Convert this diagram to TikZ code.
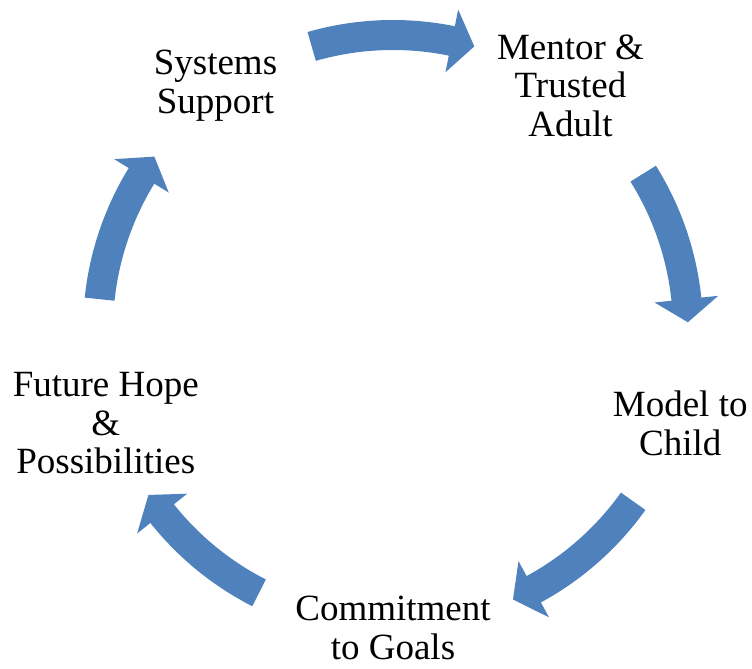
\documentclass[tikz,border=0pt]{standalone}
\usepackage{fontspec}
\setmainfont{Liberation Serif}
\usetikzlibrary{calc}
\definecolor{cycleblue}{HTML}{4F81BD}
\tikzset{
  steptext/.style={align=center,inner sep=0pt,font=\fontsize{37}{38.5}\selectfont},
  arrowfill/.style={fill=cycleblue,draw=none}
}
% curved block arrow round (c): #1 = tail angle, #2 = tip angle
\newcommand{\bentarrow}[2]{%
  \pgfmathsetmacro{\headang}{#2+4.5}
  \fill[arrowfill] ($(c)+(#1:310pt)$) arc[start angle=#1, end angle=\headang, radius=310pt]
    -- ($(c)+(\headang:327pt)$) -- ($(c)+(#2:295pt)$) -- ($(c)+(\headang:263pt)$)
    -- ($(c)+(\headang:280pt)$) arc[start angle=\headang, end angle=#1, radius=280pt]
    -- cycle;
}

\begin{document}
\begin{tikzpicture}[x=1pt,y=1pt]
\useasboundingbox (0,0) rectangle (752,669);
\coordinate (c) at (393,339);

\node[steptext] (systems) at ($(c)+(126:302pt)$) {Systems\\Support};
\node[steptext] (mentor) at ($(c)+(54:302pt)$) {Mentor \&\\Trusted\\Adult};
\node[steptext] (model) at ($(c)+(-18:302pt)$) {Model to\\Child};
\node[steptext] (goals) at ($(c)+(-90:298pt)$) {Commitment\\to Goals};
\node[steptext] (hope) at ($(c)+(198:302pt)$) {Future Hope\\\&\\Possibilities};

\foreach \t/\h in {106/74, 32/1.5, -35.5/-66, -117/-146, 174/144}
  \bentarrow{\t}{\h};
\end{tikzpicture}
\end{document}
